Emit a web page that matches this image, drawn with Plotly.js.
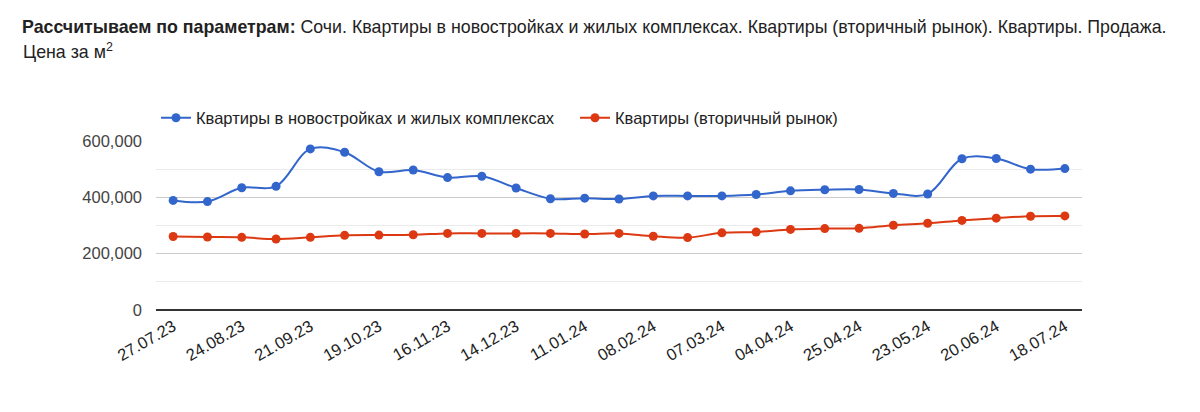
<!DOCTYPE html>
<html>
<head>
<meta charset="utf-8">
<script src="https://cdn.plot.ly/plotly-3.0.1.min.js"></script>
<style>
  html, body { margin: 0; padding: 0; background: #fff; }
  #chart { width: 1200px; height: 412px; }
</style>
</head>
<body>
<div id="chart"></div>
<script>
const dates = ["27.07.23","10.08.23","24.08.23","07.09.23","21.09.23","05.10.23","19.10.23","02.11.23","16.11.23","30.11.23","14.12.23","28.12.23","11.01.24","25.01.24","08.02.24","22.02.24","07.03.24","21.03.24","04.04.24","18.04.24","25.04.24","09.05.24","23.05.24","06.06.24","20.06.24","04.07.24","18.07.24"];
const tickLabels = ["27.07.23","24.08.23","21.09.23","19.10.23","16.11.23","14.12.23","11.01.24","08.02.24","07.03.24","04.04.24","25.04.24","23.05.24","20.06.24","18.07.24"];
const seriesNames = ["Квартиры в новостройках и жилых комплексах", "Квартиры (вторичный рынок)"];
const newBuildings = [389000,385000,434000,439000,572000,560000,491000,497000,470000,475000,433000,395000,397000,394000,405000,405000,405000,410000,423000,427000,428000,414000,412000,537000,538000,500000,502000];
const secondary = [261000,259000,258000,252000,258000,265000,266000,267000,272000,272000,272000,272000,270000,272000,262000,257000,274000,277000,286000,289000,290000,301000,308000,318000,326000,333000,334000];
const yTicks = [0, 200000, 400000, 600000];
const titleLine1 = "<b>Рассчитываем по параметрам:</b> Сочи. Квартиры в новостройках и жилых комплексах. Квартиры (вторичный рынок). Квартиры. Продажа.";
const titleLine2 = "Цена за м<sup>2</sup>";

const FONT = "'Liberation Sans', Arial, Helvetica, sans-serif";

const traces = [
  { x: dates, y: newBuildings, name: seriesNames[0], type: "scatter", mode: "lines+markers",
    line: { color: "#3366cc", width: 2, shape: "spline", smoothing: 1 },
    marker: { color: "#3366cc", size: 9 } },
  { x: dates, y: secondary, name: seriesNames[1], type: "scatter", mode: "lines+markers",
    line: { color: "#dc3912", width: 2, shape: "spline", smoothing: 1 },
    marker: { color: "#dc3912", size: 9 } }
];

const layout = {
  width: 1200, height: 412,
  margin: { l: 156, r: 118, t: 141, b: 102 },
  paper_bgcolor: "#fff", plot_bgcolor: "#fff",
  font: { family: FONT, size: 16.5, color: "#222" },
  title: {
    text: titleLine1,
    x: 22 / 1200, xanchor: "left", xref: "container",
    y: 1 - 27 / 412, yanchor: "middle", yref: "container",
    font: { family: FONT, size: 17.8, color: "#222" }
  },
  annotations: [{
    text: titleLine2, showarrow: false,
    xref: "paper", yref: "paper",
    x: (21 - 156) / 926, xanchor: "left",
    y: (310 - 51) / 169, yanchor: "middle",
    font: { family: FONT, size: 17.8, color: "#222" }
  }],
  showlegend: true,
  legend: {
    orientation: "h", x: 0, xanchor: "left", y: 1.136, yanchor: "middle",
    font: { family: FONT, size: 16.5, color: "#222" },
    entrywidth: 374, entrywidthmode: "pixels",
    bgcolor: "rgba(0,0,0,0)"
  },
  xaxis: {
    type: "category", range: [-0.5, dates.length - 0.5],
    tickmode: "array", tickvals: tickLabels, ticktext: tickLabels,
    tickangle: -30, showgrid: false, zeroline: false, showline: false,
    ticks: "", tickfont: { family: FONT, size: 16.5, color: "#222" },
    ticklabelstandoff: 3,
    fixedrange: true
  },
  yaxis: {
    range: [0, 600000], tickmode: "array", tickvals: yTicks,
    tickformat: ",", showgrid: true, gridcolor: "#cccccc", gridwidth: 1,
    zeroline: true, zerolinecolor: "#333333", zerolinewidth: 2,
    showline: false, ticks: "",
    minor: { dtick: 100000, tick0: 0, showgrid: true, gridcolor: "#ebebeb", gridwidth: 1, ticks: "" },
    tickfont: { family: FONT, size: 16.5, color: "#444" },
    ticklabelstandoff: 13,
    fixedrange: true
  }
};

Plotly.newPlot("chart", traces, layout, { displayModeBar: false, staticPlot: true });
</script>
</body>
</html>
